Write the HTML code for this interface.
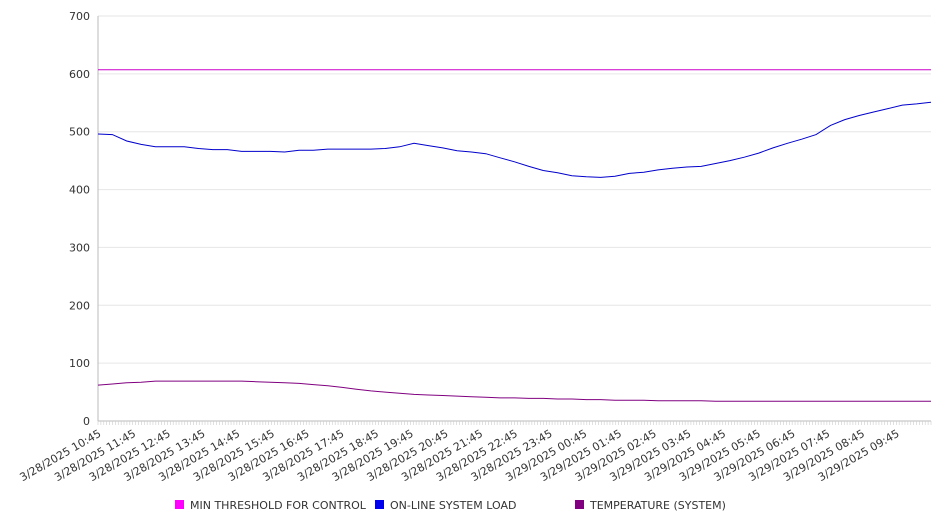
<!DOCTYPE html>
<html><head><meta charset="utf-8">
<style>
body{margin:0;background:#fff;font-family:"DejaVu Sans","Liberation Sans",sans-serif;}
svg text{font-family:"DejaVu Sans","Liberation Sans",sans-serif;fill:#333;}
</style></head>
<body>
<svg id="chart" width="946" height="526" xmlns="http://www.w3.org/2000/svg"></svg>
<script>
const yTicks=[0,100,200,300,400,500,600,700];
const xLabels=["3/28/2025 10:45","3/28/2025 11:45","3/28/2025 12:45","3/28/2025 13:45","3/28/2025 14:45","3/28/2025 15:45","3/28/2025 16:45","3/28/2025 17:45","3/28/2025 18:45","3/28/2025 19:45","3/28/2025 20:45","3/28/2025 21:45","3/28/2025 22:45","3/28/2025 23:45","3/29/2025 00:45","3/29/2025 01:45","3/29/2025 02:45","3/29/2025 03:45","3/29/2025 04:45","3/29/2025 05:45","3/29/2025 06:45","3/29/2025 07:45","3/29/2025 08:45","3/29/2025 09:45"];
// values every 30 minutes starting 3/28 10:45
const threshold=[607,607];
const load=[496,495,484,478,474,474,474,471,469,469,466,466,466,465,468,468,470,470,470,470,471,474,480,476,472,467,465,462,455,448,440,433,429,424,422,421,423,428,430,434,437,439,440,445,450,456,463,472,480,487,495,511,521,528,534,540,546,548,551];
const temp=[62,64,66,67,69,69,69,69,69,69,69,68,67,66,65,63,61,58,55,52,50,48,46,45,44,43,42,41,40,40,39,39,38,38,37,37,36,36,36,35,35,35,35,34,34,34,34,34,34,34,34,34,34,34,34,34,34,34,34];
const legend=[["MIN THRESHOLD FOR CONTROL","#ff00ff",175],["ON-LINE SYSTEM LOAD","#0000ee",375],["TEMPERATURE (SYSTEM)","#800080",575]];

const NS="http://www.w3.org/2000/svg";
const svg=document.getElementById('chart');
const X0=98,X1=931,Y0=421,Y1=16;
const hourPx=(X1-X0)/24;
const xS=h=>X0+h*hourPx;
const yS=v=>Y0-(v/700)*(Y0-Y1);
function mk(tag,attrs,parent){const e=document.createElementNS(NS,tag);for(const k in attrs)e.setAttribute(k,attrs[k]);(parent||svg).appendChild(e);return e;}

yTicks.forEach(t=>{
  const g=mk('line',{x1:X0,x2:X1,y1:yS(t),y2:yS(t),stroke:t===0?'#bbb':'#e6e6e6','stroke-width':1});
  
  
  const tx=mk('text',{x:90,y:yS(t)+4,'text-anchor':'end','font-size':11});
  tx.textContent=t;
  
  
});
const ax=mk('line',{x1:X0,x2:X0,y1:Y1,y2:Y0,stroke:'#bbb'});


for(let m=0;m<=24*12;m++){
  const x=X0+m*hourPx/12;
  const tk=mk('line',{x1:x,x2:x,y1:Y0,y2:Y0+4,stroke:'#ccc','stroke-width':0.6});
  
  
}
xLabels.forEach((l,i)=>{
  const x=xS(i),y=Y0+8;
  const tx=mk('text',{x:x,y:y,'text-anchor':'end','font-size':11,transform:`rotate(-30 ${x} ${y})`,dy:'0.7em'});
  tx.textContent=l;
  
  
});
function series(vals,color,name,spanH){
  const step=spanH/(vals.length-1);
  const d=vals.map((v,i)=>(i?'L':'M')+xS(i*step).toFixed(1)+','+yS(v).toFixed(1)).join(' ');
  const p=mk('path',{d:d,fill:'none',stroke:color,'stroke-width':1});
  
  
}
series(threshold,'#cc00cc','threshold-line',24);
series(load,'#0000cc','system-load-line',(load.length-1)*0.5>24?24:(load.length-1)*0.5);
series(temp,'#800080','temperature-line',(temp.length-1)*0.5>24?24:(temp.length-1)*0.5);
legend.forEach(([t,c,x])=>{
  const r=mk('rect',{x:x,y:500,width:9,height:9,fill:c});
  
  
  const tx=mk('text',{x:x+15,y:509,'font-size':11});
  tx.textContent=t;
  
  
});
</script>
</body></html>
